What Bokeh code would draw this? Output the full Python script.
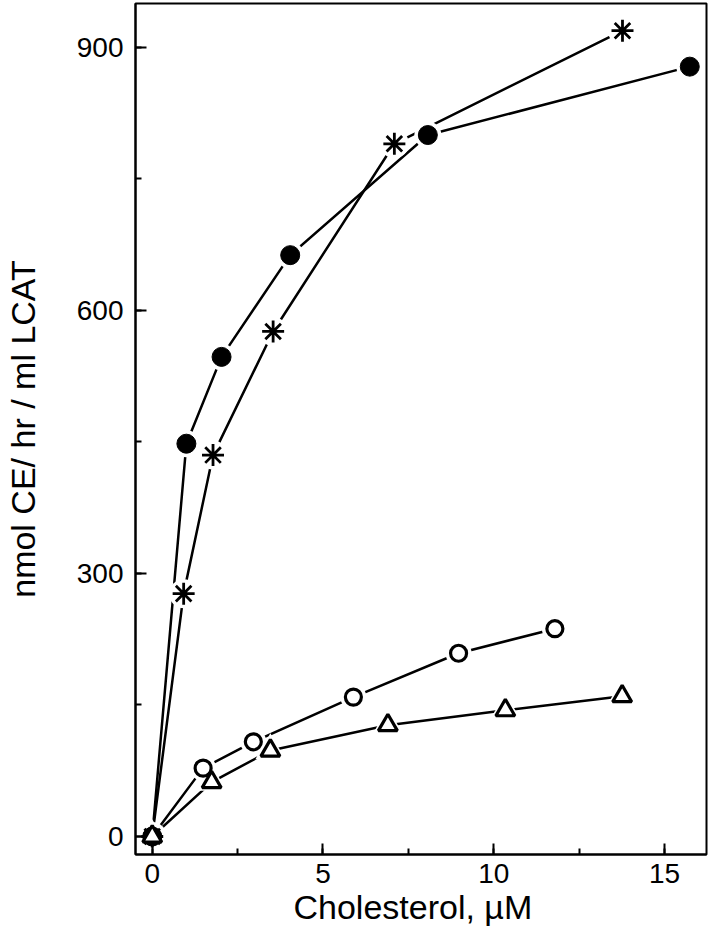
from bokeh.plotting import figure
from bokeh.models import Range1d, SingleIntervalTicker, Title
from bokeh.embed import file_html
from bokeh.resources import INLINE

# Data
x_filled = [0, 1.0, 2.03, 4.04, 8.07, 15.74]
y_filled = [0, 448, 547, 663, 800, 878]

x_star = [0, 0.92, 1.78, 3.54, 7.09, 13.77]
y_star = [0, 277, 435, 576, 790, 919]

x_open = [0, 1.49, 2.96, 5.89, 8.97, 11.79]
y_open = [0, 78, 108, 159, 209, 237]

x_tri = [0, 1.74, 3.46, 6.9, 10.34, 13.76]
y_tri = [0, 62, 98, 127, 144, 160]

x_label = "Cholesterol, µM"
y_label = "nmol CE/ hr / ml LCAT"

FONT = "Liberation Sans"

p = figure(width=709, height=931, output_backend="svg", toolbar_location=None,
           x_range=Range1d(-0.49, 16.23), y_range=Range1d(-20.5, 950),
           min_border_left=129, min_border_right=3, min_border_top=3, min_border_bottom=77)

p.grid.visible = False
p.outline_line_color = "black"
p.outline_line_width = 2
p.background_fill_color = "white"
p.border_fill_color = "white"

p.xaxis.ticker = SingleIntervalTicker(interval=5, num_minor_ticks=2)
p.yaxis.ticker = SingleIntervalTicker(interval=300, num_minor_ticks=2)

for ax in (p.xaxis[0], p.yaxis[0]):
    ax.axis_line_color = "black"
    ax.axis_line_width = 2
    ax.major_tick_in = 11
    ax.major_tick_out = 0
    ax.minor_tick_in = 6
    ax.minor_tick_out = 0
    ax.major_tick_line_width = 2
    ax.minor_tick_line_width = 2
    ax.major_tick_line_color = "black"
    ax.minor_tick_line_color = "black"
    ax.major_label_text_font = FONT
    ax.major_label_text_font_size = "28px"
    ax.major_label_text_color = "black"
    ax.axis_label_text_font = FONT
    ax.axis_label_text_font_size = "34px"
    ax.axis_label_text_font_style = "normal"
    ax.axis_label_text_color = "black"

p.xaxis.major_label_standoff = 9
p.yaxis.major_label_standoff = 12

# y axis title as the axis label, x axis title as a side title shifted like the reference
p.yaxis.axis_label = y_label
p.yaxis.axis_label_standoff = 32
p.add_layout(Title(text=x_label, text_font=FONT, text_font_size="34px", text_font_style="normal",
                   text_color="black", align="left", offset=158, standoff=0), "below")

LW = 2.5
series = [(x_filled, y_filled), (x_star, y_star), (x_open, y_open), (x_tri, y_tri)]
for xs, ys in series:
    p.line(xs, ys, line_color="black", line_width=LW)

# white halos to make the gaps between lines and markers
p.scatter(x_filled, y_filled, marker="circle", size=27, fill_color="white", line_color=None)
p.scatter(x_star, y_star, marker="circle", size=29, fill_color="white", line_color=None)
p.scatter(x_open, y_open, marker="circle", size=26, fill_color="white", line_color=None)
p.scatter(x_tri, y_tri, marker="triangle", size=30, fill_color="white", line_color=None)

# markers
p.scatter(x_filled, y_filled, marker="circle", size=19, fill_color="black", line_color="black")
p.scatter(x_star, y_star, marker="asterisk", size=22, line_color="black", line_width=2.8)
p.scatter(x_open, y_open, marker="circle", size=16, fill_color="white", line_color="black", line_width=3.2)
p.scatter(x_tri, y_tri, marker="triangle", size=19, fill_color="white", line_color="black", line_width=3.2)

open("out.html", "w").write(file_html(p, INLINE))
